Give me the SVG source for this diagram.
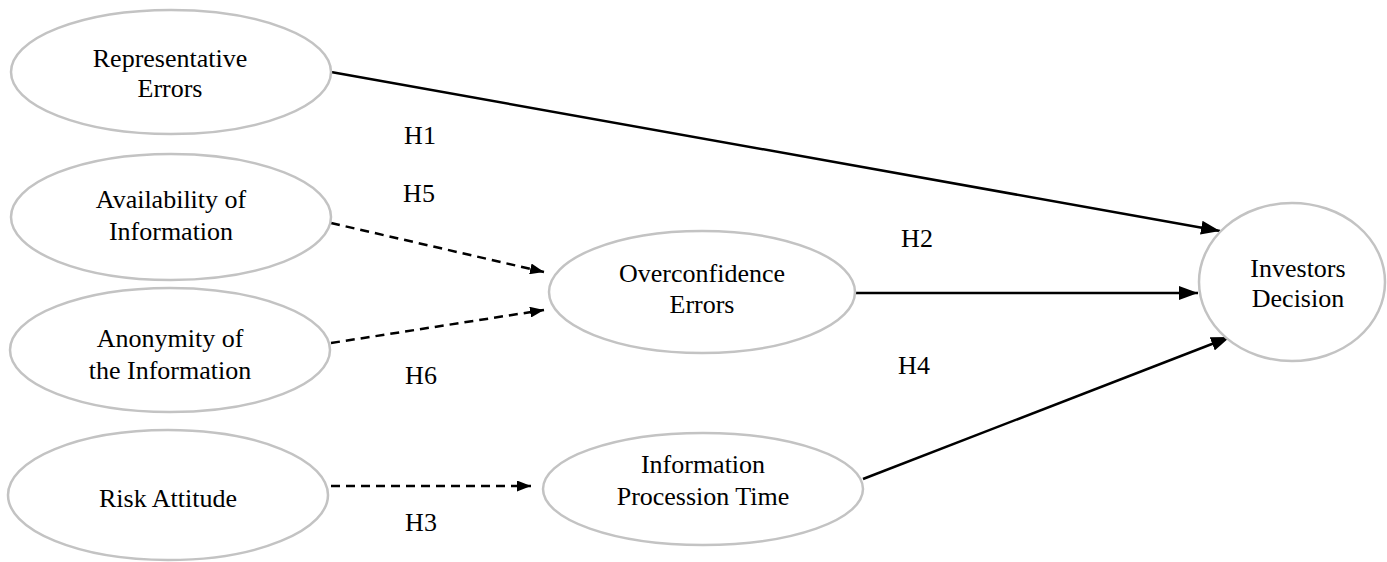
<svg xmlns="http://www.w3.org/2000/svg" width="1387" height="562" viewBox="0 0 1387 562">
<style>
.node ellipse{fill:#fff;stroke:#c3c3c3;stroke-width:2.5}
text{font-family:"Liberation Serif","Times New Roman",serif;font-size:26px;fill:#000;text-anchor:middle}
.solid{stroke:#000;stroke-width:2.5;fill:none}
.dash{stroke:#000;stroke-width:2.5;fill:none;stroke-dasharray:9 6}
</style>
<defs>
<marker id="ah" markerWidth="19" markerHeight="14" refX="19" refY="7" orient="auto" markerUnits="userSpaceOnUse">
<path d="M0,0 L19,7 L0,14 Z" fill="#000"/>
</marker>
<marker id="ahs" markerWidth="14" markerHeight="11" refX="14" refY="5.5" orient="auto" markerUnits="userSpaceOnUse">
<path d="M0,0 L14,5.5 L0,11 Z" fill="#000"/>
</marker>
</defs>
<rect width="1387" height="562" fill="#fff"/>
<g id="connectors">
<line class="solid" x1="331" y1="72" x2="1220" y2="231" marker-end="url(#ah)"/>
<line class="solid" x1="855" y1="293" x2="1198" y2="293" marker-end="url(#ah)"/>
<line class="solid" x1="863" y1="479" x2="1230" y2="337" marker-end="url(#ah)"/>
<line class="dash" x1="331" y1="223" x2="544" y2="272" marker-end="url(#ahs)"/>
<line class="dash" x1="331" y1="343" x2="544" y2="310" marker-end="url(#ahs)"/>
<line class="dash" x1="331" y1="486" x2="531" y2="486" marker-end="url(#ahs)"/>
</g>
<g id="labels">
<text x="420" y="144">H1</text>
<text x="419" y="202">H5</text>
<text x="421" y="384">H6</text>
<text x="421" y="531">H3</text>
<text x="917" y="247">H2</text>
<text x="914" y="374">H4</text>
</g>
<g id="n-rep" class="node"><ellipse cx="171" cy="72" rx="160" ry="62"/><text x="170" y="67">Representative</text><text x="170" y="97">Errors</text></g>
<g id="n-avail" class="node"><ellipse cx="171" cy="217" rx="160" ry="63"/><text x="171" y="208">Availability of</text><text x="171" y="240">Information</text></g>
<g id="n-anon" class="node"><ellipse cx="170" cy="350" rx="160" ry="62"/><text x="170" y="347">Anonymity of</text><text x="170" y="379">the Information</text></g>
<g id="n-risk" class="node"><ellipse cx="168" cy="495" rx="160" ry="65"/><text x="168" y="507">Risk Attitude</text></g>
<g id="n-over" class="node"><ellipse cx="702" cy="292" rx="153" ry="61"/><text x="702" y="282">Overconfidence</text><text x="702" y="313">Errors</text></g>
<g id="n-ipt" class="node"><ellipse cx="703" cy="489" rx="160" ry="56"/><text x="703" y="473">Information</text><text x="703" y="505">Procession Time</text></g>
<g id="n-inv" class="node"><ellipse cx="1292" cy="282" rx="93" ry="79"/><text x="1298" y="277">Investors</text><text x="1298" y="307">Decision</text></g>
</svg>
